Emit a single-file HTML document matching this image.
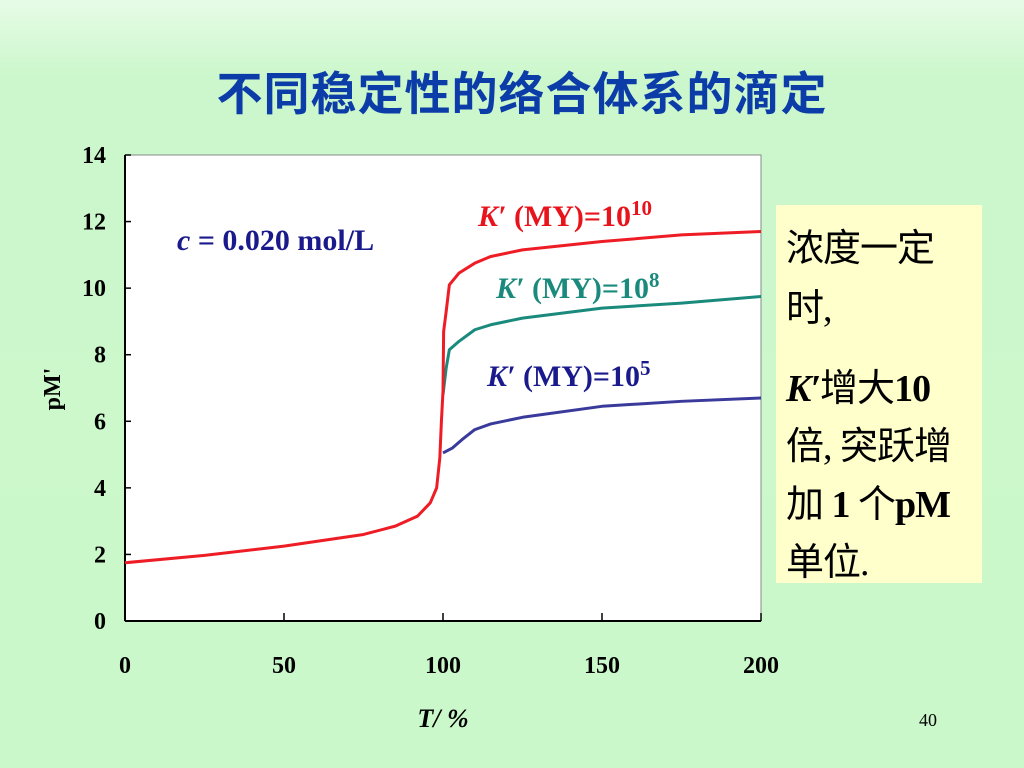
<!DOCTYPE html>
<html><head><meta charset="utf-8"><style>
body{margin:0;width:1024px;height:768px;overflow:hidden;background:linear-gradient(#e6fbe6 0%,#ccf7cc 10%,#cbf8cb 100%);font-family:"Liberation Serif","Noto Serif CJK SC",serif;}
#title{position:absolute;left:0;width:1044px;top:58px;text-align:center;font:bold 46px "Liberation Sans","Noto Sans CJK SC",sans-serif;color:#0b3ca8;letter-spacing:1px;}
#note{position:absolute;left:776px;top:205px;width:206px;height:378px;background:#ffffcc;}
#note div{position:absolute;left:10px;font:38px "Liberation Serif","Noto Sans CJK SC",sans-serif;color:#000;white-space:nowrap;letter-spacing:-1px;}
</style></head><body>
<div id="title">不同稳定性的络合体系的滴定</div>
<svg id="chart" width="1024" height="768" style="position:absolute;left:0;top:0">
<rect x="125" y="155" width="636" height="466" fill="#fff" stroke="#888" stroke-width="1"/>
<g id="axes"></g><g id="series"></g>
<text transform="translate(60,389) rotate(-90)" text-anchor="middle" font-size="24" font-weight="bold" font-family="Liberation Serif">pM'</text>
<text x="443" y="727" text-anchor="middle" font-size="26" font-weight="bold" font-style="italic" font-family="Liberation Serif">T/ %</text>
<text x="177" y="250" font-size="30" font-weight="bold" fill="#1a1a8c" font-family="Liberation Serif"><tspan font-style="italic">c</tspan> = 0.020 mol/L</text>
<text x="478" y="226" font-size="30" font-weight="bold" fill="#e8141c" font-family="Liberation Serif"><tspan font-style="italic">K′</tspan> (MY)=10<tspan dy="-11" font-size="21">10</tspan></text>
<text x="496" y="298" font-size="30" font-weight="bold" fill="#1a8a7c" font-family="Liberation Serif"><tspan font-style="italic">K′</tspan> (MY)=10<tspan dy="-11" font-size="21">8</tspan></text>
<text x="487" y="386" font-size="30" font-weight="bold" fill="#1a1a8c" font-family="Liberation Serif"><tspan font-style="italic">K′</tspan> (MY)=10<tspan dy="-11" font-size="21">5</tspan></text>
<text x="928" y="726" text-anchor="middle" font-size="18" font-family="Liberation Serif">40</text>
</svg>
<div id="note">
<div style="top:12px">浓度一定</div>
<div style="top:72px">时,</div>
<div style="top:152px"><b><i>K′</i></b>增大<b>10</b></div>
<div style="top:210px">倍, 突跃增</div>
<div style="top:268px">加 <b>1</b> 个<b>pM</b></div>
<div style="top:326px">单位.</div>
</div>
<script>
const xTicks=[0,50,100,150,200];
const yTicks=[0,2,4,6,8,10,12,14];
const redT=[0,25,50,75,85,92,96,98,99,99.5,100,100.2,101,102,105,110,115,125,150,175,200];
const redP=[1.75,1.97,2.25,2.6,2.85,3.15,3.55,4.0,4.9,6.0,6.9,8.7,9.3,10.1,10.45,10.75,10.95,11.15,11.4,11.6,11.7];
const tealT=[100,101,102,105,110,115,125,150,175,200];
const tealP=[6.8,7.6,8.15,8.4,8.75,8.9,9.1,9.4,9.55,9.75];
const blueT=[100,103,106,110,115,125,150,175,200];
const blueP=[5.05,5.2,5.45,5.75,5.92,6.12,6.45,6.6,6.7];
const X=v=>125+v*636/200, Y=v=>621-v*466/14;
const NS="http://www.w3.org/2000/svg";
const ax=document.getElementById('axes'), se=document.getElementById('series');
function mk(t,a,p){const e=document.createElementNS(NS,t);for(const k in a)e.setAttribute(k,a[k]);p.appendChild(e);return e;}
const xl=mk('line',{x1:125,y1:621,x2:761,y2:621,stroke:'#000','stroke-width':2},ax);


const yl=mk('line',{x1:125,y1:155,x2:125,y2:621,stroke:'#000','stroke-width':2},ax);


xTicks.forEach(v=>{
 mk('line',{x1:X(v),y1:621,x2:X(v),y2:613,stroke:'#000','stroke-width':1.5},ax);
 const t=mk('text',{x:X(v),y:673,'text-anchor':'middle','font-size':24,'font-weight':'bold','font-family':'Liberation Serif'},ax);
 t.textContent=v;
 
 
});
yTicks.forEach(v=>{
 mk('line',{x1:125,y1:Y(v),x2:131,y2:Y(v),stroke:'#000','stroke-width':1.5},ax);
 const t=mk('text',{x:106,y:Y(v)+8,'text-anchor':'end','font-size':24,'font-weight':'bold','font-family':'Liberation Serif'},ax);
 t.textContent=v;
 
 
});
function line(T,P,c,name){
 const p=mk('polyline',{points:T.map((t,i)=>X(t)+','+Y(P[i])).join(' '),fill:'none',stroke:c,'stroke-width':3,'stroke-linejoin':'round'},se);
 
 
}
line(blueT,blueP,'#3a3a9c','series-k5');
line(tealT,tealP,'#1a8a7c','series-k8');
line(redT,redP,'#ee1c24','series-k10');
</script>
</body></html>
